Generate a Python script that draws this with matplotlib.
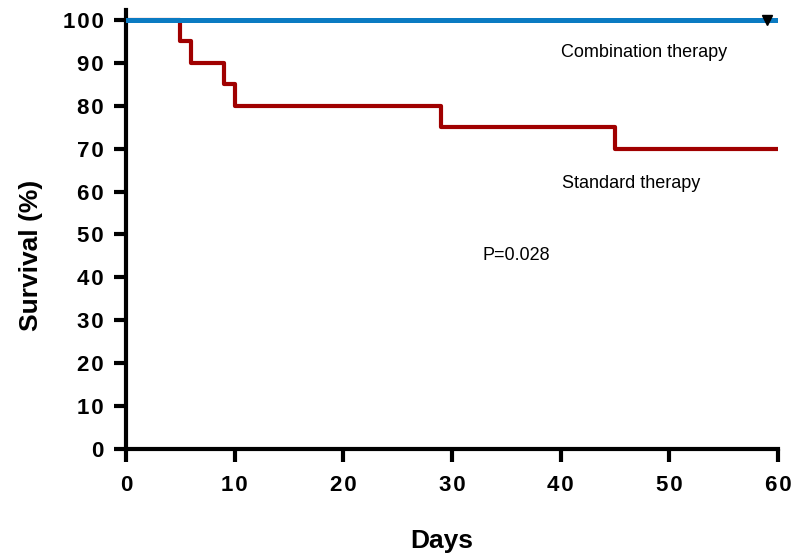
import matplotlib.pyplot as plt

# Kaplan-Meier steps
std_days = [0, 5, 6, 9, 10, 29, 45, 60]
std_surv = [100, 95, 90, 85, 80, 75, 70, 70]
combo_days = [0, 60]
combo_surv = [100, 100]
censor_day = [59]
censor_surv = [100]

x_ticks = [0, 10, 20, 30, 40, 50, 60]
y_ticks = [0, 10, 20, 30, 40, 50, 60, 70, 80, 90, 100]

plt.rcParams['font.family'] = ['Liberation Sans', 'DejaVu Sans']

fig = plt.figure(figsize=(7.91, 5.57), dpi=100)
# axes box: x 126..778 px, y 449..10 px
ax = fig.add_axes([126 / 791, 1 - 449 / 557, 652 / 791, 439 / 557])

ax.step(combo_days, combo_surv, where="post", color="#0b7bc2", lw=3.6, zorder=3)
ax.step(std_days, std_surv, where="post", color="#a00000", lw=3.0, zorder=2)
ax.plot(censor_day, censor_surv, marker="v", color="black", ms=7, ls="none", zorder=4)

ax.set_xlim(0, 60)
ax.set_ylim(0, 102.3)
ax.set_xticks(x_ticks)
ax.set_yticks(y_ticks)
spaced = lambda t: "\u200a".join(str(t))
ax.set_xticklabels([spaced(t) for t in x_ticks])
ax.set_yticklabels([spaced(t) for t in y_ticks])

for side in ["top", "right"]:
    ax.spines[side].set_visible(False)
for side in ["left", "bottom"]:
    ax.spines[side].set_linewidth(3)
ax.tick_params(width=3, length=9, labelsize=16)
ax.tick_params(axis="x", pad=10)
ax.tick_params(axis="y", pad=7)
for lab in ax.get_xticklabels() + ax.get_yticklabels():
    lab.set_fontweight("bold")

ax.set_xlabel("Days", fontsize=19, fontweight="bold", va="center", ha="center")
ax.set_ylabel("Survival (%)", fontsize=19, fontweight="bold", va="center", ha="center")
ax.xaxis.set_label_coords(0.485, -0.21)
ax.yaxis.set_label_coords(-0.145, 0.44)

ax.text(47.7, 92.5, "Combination therapy", fontsize=13, ha="center", va="center")
ax.text(46.5, 61.8, "Standard therapy", fontsize=13, ha="center", va="center")
ax.text(35.9, 45, "P=0.028", fontsize=13, ha="center", va="center")

fig.savefig("out.png", dpi=100)
